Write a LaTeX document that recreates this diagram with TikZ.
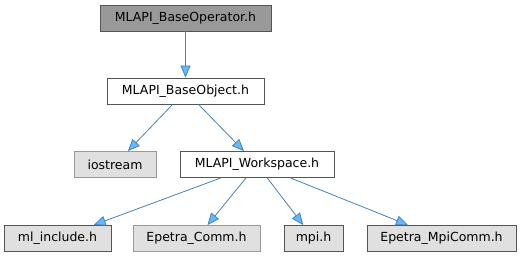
\documentclass[tikz,border=0pt]{standalone}
\usepackage{fontspec}
\setmainfont{DejaVu Sans}
\usetikzlibrary{arrows.meta}
\definecolor{edgeblue}{HTML}{4682B4}
\definecolor{tipblue}{HTML}{63B8FF}
\definecolor{leaffill}{HTML}{E0E0E0}
\definecolor{lightline}{HTML}{999999}
\definecolor{rootfill}{HTML}{999999}
\definecolor{boxline}{HTML}{555555}
\begin{document}
\begin{tikzpicture}[x=1pt,y=-1pt,
  filebox/.style={draw, line width=0.9pt, minimum height=26pt, inner sep=0pt,
    font=\fontsize{12.5}{14}\selectfont},
  rootbox/.style={filebox, draw=boxline, fill=rootfill},
  mainbox/.style={filebox, draw=boxline, fill=white},
  leafbox/.style={filebox, draw=boxline, fill=leaffill},
  paleleaf/.style={leafbox, draw=lightline},
  dep/.style={draw=edgeblue, line width=0.8pt,
    -{Triangle[length=12pt,width=10pt,fill=tipblue]}}]
  \useasboundingbox (0,0) rectangle (525,256);
  % header nodes, top to bottom
  \node[rootbox, minimum width=171pt] (op)  at (185.5,18)  {MLAPI\_BaseOperator.h};
  \node[mainbox, minimum width=157pt] (obj) at (185.5,91)  {MLAPI\_BaseObject.h};
  \node[paleleaf, minimum width=82pt] (ios) at (115,164.5) {iostream};
  \node[mainbox, minimum width=154pt] (ws)  at (257,164.5) {MLAPI\_Workspace.h};
  \node[leafbox, minimum width=107pt] (ml)  at (57.5,238.5)  {ml\_include.h};
  \node[paleleaf, minimum width=127pt] (ec) at (196.5,238.5) {Epetra\_Comm.h};
  \node[leafbox, minimum width=59pt]  (mpi) at (313.5,238.5) {mpi.h};
  \node[leafbox, minimum width=149pt] (emc) at (441.5,238.5) {Epetra\_MpiComm.h};
  % include dependencies
  \draw[dep] (op)  -- (obj);
  \draw[dep] (obj) -- (ios);
  \draw[dep] (obj) -- (ws);
  \draw[dep] (ws)  -- (ml);
  \draw[dep] (ws)  -- (ec);
  \draw[dep] (ws)  -- (mpi);
  \draw[dep] (ws)  -- (emc);
\end{tikzpicture}
\end{document}
